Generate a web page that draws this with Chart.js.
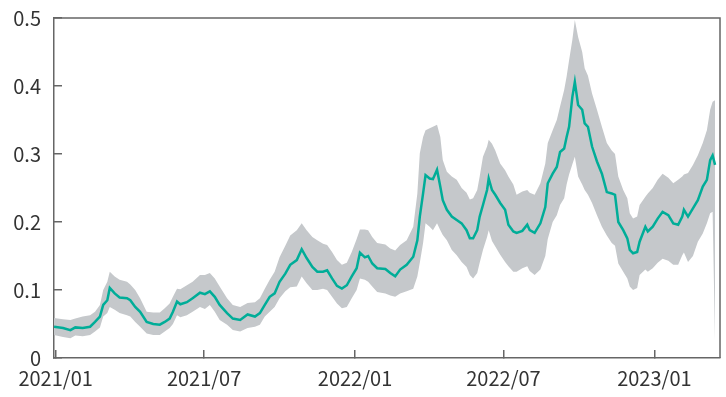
<!DOCTYPE html>
<html>
<head>
<meta charset="utf-8">
<script src="https://cdn.jsdelivr.net/npm/chart.js@4/dist/chart.umd.min.js"></script>
<style>
  html, body { margin: 0; padding: 0; background: #ffffff; }
  #wrap { width: 726px; height: 397px; }
</style>
</head>
<body>
<div id="wrap"><canvas id="chart" width="726" height="397"></canvas></div>
<script>
// Observation dates
const dates = [
  '2020-12-30','2021-01-10','2021-01-19','2021-01-25','2021-02-03','2021-02-12','2021-02-18','2021-02-24',
  '2021-02-28','2021-03-05','2021-03-08','2021-03-14','2021-03-20','2021-03-29','2021-04-02','2021-04-08',
  '2021-04-14','2021-04-22','2021-04-30','2021-05-08','2021-05-14','2021-05-20','2021-05-24','2021-05-29',
  '2021-06-02','2021-06-10','2021-06-17','2021-06-26','2021-07-02','2021-07-08','2021-07-14','2021-07-20',
  '2021-07-29','2021-08-05','2021-08-14','2021-08-23','2021-09-01','2021-09-07','2021-09-13','2021-09-19',
  '2021-09-25','2021-10-01','2021-10-08','2021-10-14','2021-10-22','2021-10-28','2021-11-03','2021-11-10',
  '2021-11-16','2021-11-23','2021-11-28','2021-12-04','2021-12-10','2021-12-16','2021-12-22','2021-12-28',
  '2022-01-03','2022-01-07','2022-01-13','2022-01-17','2022-01-22','2022-01-28','2022-02-07','2022-02-13',
  '2022-02-19','2022-02-25','2022-03-05','2022-03-13','2022-03-18','2022-03-21','2022-03-25','2022-03-28',
  '2022-04-02','2022-04-06','2022-04-11','2022-04-15','2022-04-18','2022-04-23','2022-04-29','2022-05-05',
  '2022-05-11','2022-05-17','2022-05-21','2022-05-25','2022-05-30','2022-06-02','2022-06-06','2022-06-11',
  '2022-06-13','2022-06-17','2022-06-21','2022-06-27','2022-07-03','2022-07-07','2022-07-13','2022-07-17',
  '2022-07-24','2022-07-30','2022-08-02','2022-08-08','2022-08-15','2022-08-21','2022-08-24','2022-08-30',
  '2022-09-04','2022-09-08','2022-09-13','2022-09-16','2022-09-19','2022-09-23','2022-09-26','2022-09-30',
  '2022-10-05','2022-10-08','2022-10-12','2022-10-17','2022-10-23','2022-10-29','2022-11-04','2022-11-10',
  '2022-11-14','2022-11-18','2022-11-24','2022-11-29','2022-12-02','2022-12-06','2022-12-11','2022-12-14',
  '2022-12-21','2022-12-24','2022-12-30','2023-01-05','2023-01-11','2023-01-18','2023-01-24','2023-01-30',
  '2023-02-04','2023-02-06','2023-02-11','2023-02-17','2023-02-23','2023-03-01','2023-03-06','2023-03-10',
  '2023-03-13','2023-03-16'
];

// Central estimate
const midValues = [
  0.046,0.044,0.041,0.045,0.044,0.046,0.053,0.061,
  0.078,0.085,0.103,0.095,0.089,0.088,0.085,0.075,
  0.068,0.053,0.050,0.049,0.053,0.058,0.068,0.083,
  0.079,0.082,0.088,0.096,0.094,0.098,0.090,0.078,
  0.066,0.058,0.056,0.064,0.061,0.066,0.078,0.090,
  0.095,0.112,0.124,0.137,0.144,0.160,0.147,0.134,
  0.127,0.127,0.129,0.117,0.106,0.102,0.107,0.120,
  0.132,0.155,0.148,0.150,0.139,0.132,0.131,0.125,
  0.120,0.130,0.137,0.149,0.173,0.208,0.242,0.269,
  0.264,0.263,0.277,0.252,0.232,0.218,0.208,0.203,
  0.198,0.188,0.176,0.176,0.188,0.208,0.225,0.247,
  0.264,0.247,0.240,0.228,0.218,0.196,0.186,0.184,
  0.187,0.196,0.188,0.184,0.198,0.222,0.257,0.271,
  0.281,0.303,0.308,0.325,0.340,0.384,0.406,0.372,
  0.365,0.345,0.340,0.311,0.289,0.271,0.244,0.242,
  0.240,0.200,0.188,0.176,0.159,0.154,0.156,0.171,
  0.193,0.186,0.193,0.205,0.215,0.210,0.198,0.196,
  0.208,0.218,0.208,0.220,0.232,0.252,0.262,0.291,
  0.298,0.284
];

// Upper bound of the range
const upperValues = [
  0.059,0.057,0.056,0.058,0.061,0.063,0.068,0.078,
  0.100,0.112,0.127,0.120,0.115,0.112,0.108,0.100,
  0.088,0.068,0.067,0.067,0.073,0.080,0.090,0.102,
  0.101,0.107,0.112,0.122,0.122,0.125,0.117,0.105,
  0.088,0.078,0.075,0.081,0.082,0.088,0.102,0.115,
  0.127,0.148,0.165,0.180,0.188,0.198,0.188,0.178,
  0.173,0.168,0.166,0.156,0.144,0.137,0.140,0.156,
  0.175,0.189,0.189,0.188,0.178,0.169,0.167,0.161,
  0.158,0.166,0.173,0.193,0.242,0.301,0.325,0.335,
  0.338,0.340,0.343,0.325,0.291,0.274,0.267,0.262,
  0.250,0.243,0.233,0.235,0.247,0.267,0.296,0.311,
  0.321,0.315,0.305,0.286,0.276,0.267,0.255,0.240,
  0.245,0.247,0.243,0.240,0.257,0.286,0.316,0.335,
  0.350,0.370,0.394,0.414,0.438,0.468,0.497,0.472,
  0.450,0.426,0.415,0.389,0.365,0.340,0.316,0.305,
  0.300,0.267,0.247,0.235,0.213,0.205,0.208,0.225,
  0.237,0.242,0.250,0.262,0.271,0.265,0.257,0.262,
  0.267,0.270,0.272,0.284,0.298,0.316,0.335,0.365,
  0.377,0.379
];

// Lower bound of the range
const lowerValues = [
  0.034,0.031,0.029,0.033,0.032,0.034,0.039,0.045,
  0.061,0.066,0.075,0.071,0.066,0.063,0.061,0.053,
  0.046,0.036,0.034,0.034,0.039,0.044,0.050,0.063,
  0.060,0.063,0.068,0.075,0.072,0.078,0.068,0.056,
  0.049,0.041,0.039,0.044,0.046,0.049,0.061,0.068,
  0.075,0.088,0.098,0.104,0.105,0.120,0.110,0.100,
  0.100,0.102,0.100,0.090,0.080,0.073,0.075,0.088,
  0.100,0.117,0.115,0.112,0.105,0.097,0.095,0.092,
  0.090,0.095,0.098,0.102,0.120,0.140,0.169,0.198,
  0.193,0.188,0.198,0.188,0.181,0.173,0.159,0.151,
  0.141,0.134,0.122,0.117,0.125,0.140,0.159,0.178,
  0.188,0.172,0.164,0.152,0.141,0.135,0.127,0.127,
  0.132,0.135,0.128,0.122,0.130,0.150,0.175,0.200,
  0.210,0.225,0.235,0.255,0.270,0.285,0.296,0.267,
  0.255,0.247,0.240,0.228,0.210,0.193,0.180,0.169,
  0.165,0.139,0.127,0.117,0.105,0.100,0.103,0.122,
  0.130,0.127,0.132,0.140,0.146,0.143,0.137,0.137,
  0.151,0.155,0.141,0.150,0.171,0.183,0.198,0.213,
  0.215,0.020
];

// Axis ticks
const xTickDates = ['2021-01-01','2021-07-01','2022-01-01','2022-07-01','2023-01-01'];
const xTickLabels = ['2021/01','2021/07','2022/01','2022/07','2023/01'];
const xRange = ['2020-12-30','2023-03-22'];
const yTicks = [0, 0.1, 0.2, 0.3, 0.4, 0.5];
const yTickLabels = ['0','0.1','0.2','0.3','0.4','0.5'];

// Days counted from 2021-01-01
const ORIGIN = Date.UTC(2021, 0, 1);
function dayOf(s) {
  const [y, m, d] = s.split('-').map(Number);
  return Math.round((Date.UTC(y, m - 1, d) - ORIGIN) / 86400000);
}
const xDays = dates.map(dayOf);
const toPoints = vals => vals.map((v, i) => ({ x: xDays[i], y: v }));
const xTickDays = xTickDates.map(dayOf);

const AXIS_COLOR = '#666666';
const TEXT_COLOR = '#333333';
const FONT = { family: '"Noto Sans CJK JP", "Noto Sans", sans-serif', size: 20 };

// Closes the plot frame on the top and right sides
const frame = {
  id: 'frame',
  afterDatasetsDraw(chart) {
    const { ctx, chartArea: a } = chart;
    ctx.save();
    ctx.strokeStyle = AXIS_COLOR;
    ctx.lineWidth = 1.5;
    ctx.beginPath();
    ctx.moveTo(a.left, a.top);
    ctx.lineTo(a.right, a.top);
    ctx.lineTo(a.right, a.bottom);
    ctx.stroke();
    ctx.restore();
  }
};

new Chart(document.getElementById('chart'), {
  type: 'line',
  data: {
    datasets: [
      {
        label: 'mid',
        data: toPoints(midValues),
        borderColor: '#00ad98',
        borderWidth: 2.5,
        pointRadius: 0,
        tension: 0,
        fill: false
      },
      {
        label: 'upper',
        data: toPoints(upperValues),
        borderWidth: 0,
        borderColor: 'rgba(0,0,0,0)',
        backgroundColor: '#c5c8cb',
        pointRadius: 0,
        tension: 0,
        fill: '+1'
      },
      {
        label: 'lower',
        data: toPoints(lowerValues),
        borderWidth: 0,
        borderColor: 'rgba(0,0,0,0)',
        pointRadius: 0,
        tension: 0,
        fill: false
      }
    ]
  },
  options: {
    responsive: false,
    animation: false,
    events: [],
    layout: { padding: { top: 18, right: 6, left: 0, bottom: 0 } },
    plugins: {
      legend: { display: false },
      tooltip: { enabled: false }
    },
    scales: {
      x: {
        type: 'linear',
        position: 'bottom',
        min: dayOf(xRange[0]),
        max: dayOf(xRange[1]),
        afterBuildTicks: s => { s.ticks = xTickDays.map(v => ({ value: v })); },
        afterFit: s => { s.height = 39; s.paddingLeft = 0; s.paddingRight = 0; },
        ticks: {
          autoSkip: false,
          maxRotation: 0,
          padding: 16,
          color: TEXT_COLOR,
          font: FONT,
          callback: v => xTickLabels[xTickDays.indexOf(v)]
        },
        grid: { drawOnChartArea: false, tickLength: -8, color: AXIS_COLOR, lineWidth: 1.5 },
        border: { color: AXIS_COLOR, width: 1.5 }
      },
      y: {
        type: 'linear',
        min: 0,
        max: 0.5,
        afterBuildTicks: s => { s.ticks = yTicks.map(v => ({ value: v })); },
        afterFit: s => { s.width = 54; s.paddingTop = 0; s.paddingBottom = 0; },
        ticks: {
          padding: 21,
          color: TEXT_COLOR,
          font: FONT,
          callback: v => yTickLabels[yTicks.indexOf(v)]
        },
        grid: { drawOnChartArea: false, tickLength: -8, color: AXIS_COLOR, lineWidth: 1.5 },
        border: { color: AXIS_COLOR, width: 1.5 }
      }
    }
  },
  plugins: [frame]
});
</script>
</body>
</html>
